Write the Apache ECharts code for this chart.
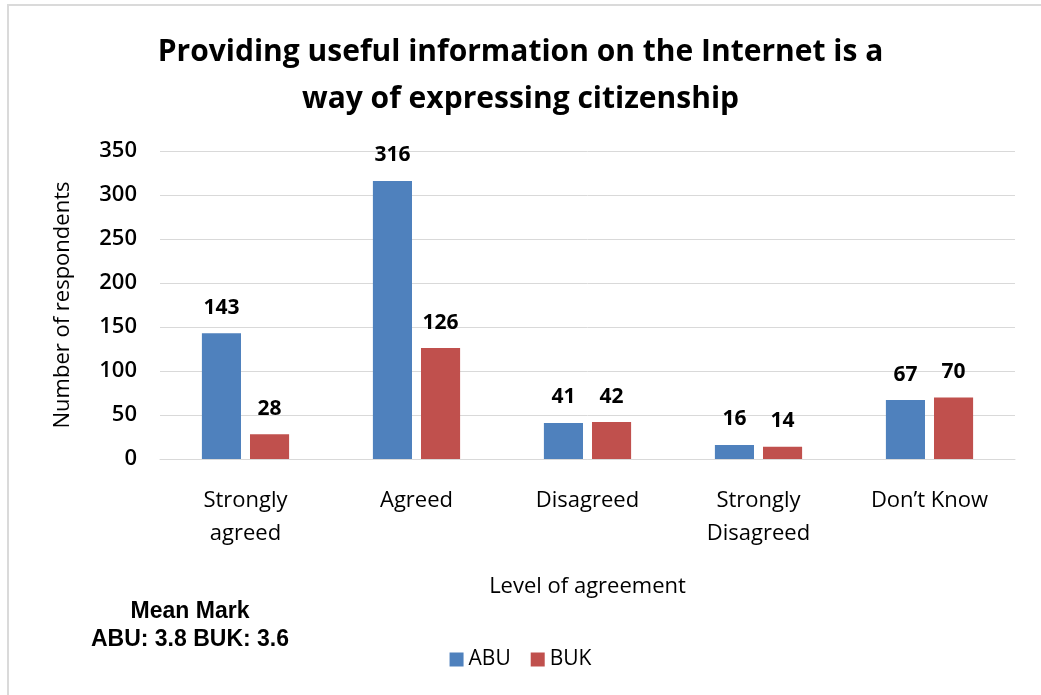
<!DOCTYPE html>
<html>
<head>
<meta charset="utf-8">
<script src="https://cdn.jsdelivr.net/npm/echarts@6/dist/echarts.min.js"></script>
<style>
  html, body { margin: 0; padding: 0; background: #ffffff; }
  .edge { position: absolute; background: #dadada; }
  #edge-top { left: 7px; top: 4px; width: 1034px; height: 2px; }
  #edge-left { left: 7px; top: 4px; width: 2px; height: 691px; }
  #chart { position: absolute; left: 0; top: 0; width: 1041px; height: 695px; }
</style>
</head>
<body>
<div class="edge" id="edge-top"></div>
<div class="edge" id="edge-left"></div>
<div id="chart"></div>
<script>
const categories = ['Strongly\nagreed', 'Agreed', 'Disagreed', 'Strongly\nDisagreed', 'Don\u2019t Know']
const abuValues = [143, 316, 41, 16, 67]
const bukValues = [28, 126, 42, 14, 70]
const seriesNames = ['ABU', 'BUK']
const meanLines = ['Mean Mark', 'ABU: 3.8 BUK: 3.6']

const font = '"Open Sans", Lato, sans-serif'
const chart = echarts.init(document.getElementById('chart'))

const labelStyle = {
  show: true,
  position: 'top',
  distance: 15,
  color: '#000000',
  fontFamily: font,
  fontSize: 21,
  fontWeight: 'bold'
}

chart.setOption({
  animation: false,
  title: {
    text: 'Providing useful information on the Internet is a\nway of expressing citizenship',
    left: 'center',
    top: 24,
    textStyle: {
      fontFamily: font,
      fontSize: 30,
      fontWeight: 'bold',
      color: '#000000',
      lineHeight: 47
    }
  },
  legend: {
    data: seriesNames,
    bottom: 20,
    left: 'center',
    itemWidth: 14,
    itemHeight: 14,
    itemGap: 20,
    icon: 'rect',
    textStyle: { fontFamily: font, fontSize: 21, color: '#000000' }
  },
  graphic: [
    {
      type: 'text',
      x: 190,
      y: 598,
      style: {
        text: meanLines.join('\n'),
        textAlign: 'center',
        fontFamily: '"Liberation Sans", Arial, sans-serif',
        fontSize: 23,
        fontWeight: 'bold',
        lineHeight: 28,
        fill: '#000000'
      }
    }
  ],
  grid: { left: 160, right: 26, top: 151, bottom: 236 },
  xAxis: {
    type: 'category',
    data: categories,
    name: 'Level of agreement',
    nameLocation: 'middle',
    nameGap: 117,
    nameTextStyle: { fontFamily: font, fontSize: 22, color: '#000000' },
    axisTick: { show: false },
    axisLine: { lineStyle: { color: '#d9d9d9', width: 1 } },
    axisLabel: {
      margin: 25,
      fontFamily: font,
      fontSize: 22,
      color: '#000000',
      lineHeight: 33
    }
  },
  yAxis: {
    type: 'value',
    min: 0,
    max: 350,
    interval: 50,
    name: 'Number of respondents',
    nameLocation: 'middle',
    nameGap: 86,
    nameTextStyle: { fontFamily: font, fontSize: 22, color: '#000000' },
    axisLine: { show: false },
    axisTick: { show: false },
    axisLabel: { margin: 23, fontFamily: font, fontSize: 22, fontWeight: 600, color: '#000000' },
    splitLine: { lineStyle: { color: '#d9d9d9', width: 1 } }
  },
  series: [
    {
      name: seriesNames[0],
      type: 'bar',
      data: abuValues,
      barGap: '23%',
      barCategoryGap: '49%',
      itemStyle: { color: '#4f81bd' },
      label: labelStyle
    },
    {
      name: seriesNames[1],
      type: 'bar',
      data: bukValues,
      barGap: '23%',
      barCategoryGap: '49%',
      itemStyle: { color: '#c0504d' },
      label: labelStyle
    }
  ]
})
</script>
</body>
</html>
